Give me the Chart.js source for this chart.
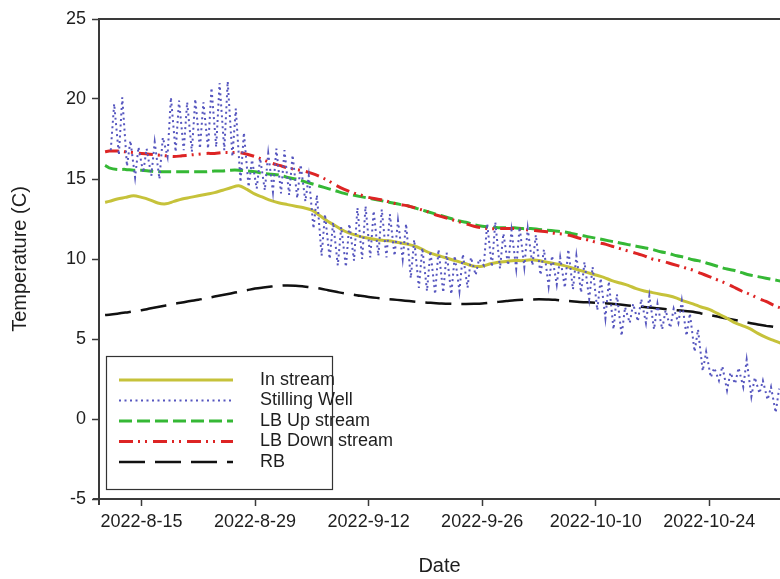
<!DOCTYPE html>
<html>
<head>
<meta charset="utf-8">
<script src="https://cdn.jsdelivr.net/npm/chart.js@4.4.1/dist/chart.umd.min.js"></script>
<style>
  html, body { margin: 0; padding: 0; background: #ffffff; }
  canvas { display: block; }
</style>
</head>
<body>
<canvas id="chart" width="780" height="579"></canvas>
<script>
// Day numbers count from 2022-08-01 (day 0), so day 14 is 2022-08-15.
const tickDays   = [14, 28, 42, 56, 70, 84];
const tickLabels = ['2022-8-15', '2022-8-29', '2022-9-12', '2022-9-26', '2022-10-10', '2022-10-24'];
const yTicks     = [-5, 0, 5, 10, 15, 20, 25];

// Daily mean temperatures (C) for the smooth records
const days = [9.5, 10, 11, 12, 13, 14, 15, 16, 17, 18, 19, 20, 21, 22, 23, 24, 25, 26, 27, 28, 29,
  30, 31, 32, 33, 34, 35, 36, 37, 38, 39, 40, 41, 42, 43, 44, 45, 46, 47, 48, 49, 50, 51, 52, 53,
  54, 55, 56, 57, 58, 59, 60, 61, 62, 63, 64, 65, 66, 67, 68, 69, 70, 71, 72, 73, 74, 75, 76, 77,
  78, 79, 80, 81, 82, 83, 84, 85, 86, 87, 88, 89, 90, 91, 92, 93];

const inStream = [13.55, 13.6, 13.75, 13.85, 13.95, 13.85, 13.7, 13.5, 13.45, 13.6, 13.75, 13.85,
  13.95, 14.05, 14.15, 14.3, 14.45, 14.58, 14.35, 14.05, 13.85, 13.65, 13.5, 13.4, 13.3, 13.2, 13.05,
  12.7, 12.35, 12.05, 11.75, 11.55, 11.4, 11.3, 11.2, 11.15, 11.1, 11.0, 10.9, 10.75, 10.5, 10.3,
  10.15, 10.0, 9.85, 9.7, 9.55, 9.55, 9.7, 9.8, 9.85, 9.9, 9.9, 9.95, 9.9, 9.8, 9.7, 9.6, 9.45, 9.3,
  9.15, 9.0, 8.85, 8.65, 8.5, 8.35, 8.15, 8.0, 7.9, 7.8, 7.7, 7.55, 7.35, 7.2, 7.0, 6.85, 6.6, 6.35,
  6.05, 5.85, 5.65, 5.35, 5.1, 4.9, 4.7];

const lbUpStream = [15.85, 15.7, 15.6, 15.6, 15.55, 15.55, 15.5, 15.45, 15.45, 15.45, 15.45, 15.45,
  15.45, 15.45, 15.5, 15.5, 15.55, 15.55, 15.5, 15.45, 15.35, 15.3, 15.25, 15.1, 15.0, 14.85, 14.7,
  14.55, 14.4, 14.25, 14.1, 14.0, 13.9, 13.8, 13.7, 13.6, 13.5, 13.4, 13.3, 13.15, 13.0, 12.85, 12.7,
  12.55, 12.4, 12.3, 12.15, 12.05, 12.0, 11.95, 11.95, 11.95, 11.9, 11.9, 11.85, 11.8, 11.75, 11.7,
  11.6, 11.5, 11.4, 11.3, 11.2, 11.1, 11.0, 10.9, 10.8, 10.7, 10.6, 10.45, 10.35, 10.2, 10.1, 9.95,
  9.85, 9.7, 9.55, 9.4, 9.3, 9.15, 9.0, 8.9, 8.8, 8.7, 8.6];

const lbDownStream = [16.7, 16.75, 16.75, 16.7, 16.65, 16.6, 16.55, 16.5, 16.45, 16.4, 16.45, 16.5,
  16.55, 16.6, 16.6, 16.65, 16.65, 16.65, 16.55, 16.4, 16.2, 16.0, 15.85, 15.7, 15.6, 15.5, 15.35,
  15.15, 14.9, 14.6, 14.35, 14.15, 14.0, 13.85, 13.75, 13.65, 13.5, 13.4, 13.3, 13.15, 13.0, 12.8,
  12.65, 12.5, 12.35, 12.2, 12.05, 11.95, 11.9, 11.9, 11.9, 11.9, 11.85, 11.8, 11.75, 11.7, 11.6,
  11.55, 11.45, 11.3, 11.2, 11.05, 10.95, 10.8, 10.65, 10.5, 10.35, 10.2, 10.0, 9.9, 9.75, 9.6, 9.45,
  9.3, 9.1, 8.9, 8.7, 8.5, 8.25, 8.0, 7.8, 7.55, 7.35, 7.1, 6.9];

const rb = [6.5, 6.52, 6.58, 6.65, 6.73, 6.8, 6.9, 7.0, 7.1, 7.2, 7.28, 7.37, 7.45, 7.55, 7.65, 7.75,
  7.85, 7.95, 8.05, 8.15, 8.22, 8.28, 8.33, 8.35, 8.33, 8.28, 8.22, 8.15, 8.05, 7.95, 7.85, 7.78, 7.7,
  7.63, 7.57, 7.52, 7.47, 7.42, 7.37, 7.32, 7.28, 7.25, 7.22, 7.2, 7.19, 7.19, 7.2, 7.22, 7.27, 7.32,
  7.37, 7.42, 7.45, 7.47, 7.48, 7.47, 7.45, 7.4, 7.36, 7.32, 7.29, 7.27, 7.24, 7.2, 7.15, 7.1, 7.05,
  7.0, 6.95, 6.9, 6.85, 6.8, 6.75, 6.7, 6.6, 6.5, 6.4, 6.3, 6.2, 6.1, 6.0, 5.9, 5.82, 5.75, 5.65];

// Stilling well: daily low (early morning) and high (afternoon) readings
const swDays = [10, 11, 12, 13, 14, 15, 16, 17, 18, 19, 20, 21, 22, 23, 24, 25, 26, 27, 28, 29, 30,
  31, 32, 33, 34, 35, 36, 37, 38, 39, 40, 41, 42, 43, 44, 45, 46, 47, 48, 49, 50, 51, 52, 53, 54, 55,
  56, 57, 58, 59, 60, 61, 62, 63, 64, 65, 66, 67, 68, 69, 70, 71, 72, 73, 74, 75, 76, 77, 78, 79, 80,
  81, 82, 83, 84, 85, 86, 87, 88, 89, 90, 91, 92];
const swHigh = [19.7, 20.1, 17.4, 17.0, 16.9, 17.3, 17.6, 20.1, 19.9, 19.8, 20.0, 19.8, 20.7, 21.0,
  21.1, 19.4, 17.9, 16.2, 16.3, 16.6, 16.9, 16.8, 16.5, 15.9, 15.2, 14.0, 12.8, 12.3, 12.0, 12.2,
  13.2, 13.3, 13.0, 13.1, 12.8, 12.4, 12.2, 11.2, 10.7, 10.5, 10.6, 10.4, 10.2, 10.3, 10.1, 10.0,
  12.2, 12.3, 11.6, 11.8, 12.0, 11.9, 11.5, 10.6, 10.2, 10.1, 10.6, 10.2, 9.8, 9.5, 8.8, 8.6, 7.8,
  7.0, 7.2, 7.5, 7.7, 7.2, 6.8, 6.9, 7.4, 6.6, 5.6, 4.2, 3.2, 3.3, 2.9, 3.2, 3.7, 2.6, 2.4, 2.0, 1.9];
const swLow = [16.8, 16.5, 15.8, 15.1, 15.4, 15.2, 15.0, 16.4, 16.7, 16.8, 16.7, 16.9, 16.9, 17.0,
  16.8, 16.4, 14.8, 14.5, 14.4, 14.3, 14.2, 14.1, 14.0, 13.8, 13.6, 11.9, 10.2, 10.0, 9.6, 9.5, 9.9,
  10.0, 10.1, 10.2, 10.1, 10.2, 10.0, 8.8, 8.2, 8.0, 7.8, 7.9, 7.8, 8.0, 8.2, 9.0, 9.6, 9.5, 9.4,
  9.6, 9.4, 9.5, 9.6, 9.0, 8.3, 8.4, 8.2, 8.1, 7.9, 7.5, 6.8, 6.3, 5.6, 5.2, 6.0, 6.1, 6.0, 5.6, 5.6,
  5.7, 6.0, 5.2, 4.2, 3.0, 2.6, 2.4, 1.8, 2.2, 2.0, 1.4, 1.6, 1.2, 0.4];

const seriesNames = ['In stream', 'Stilling Well', 'LB Up stream', 'LB Down stream', 'RB'];

const AXIS_COLOR = '#3a3a3a';
const TEXT_COLOR = '#1e1e1e';
const FONT = '"Liberation Sans", Arial, sans-serif';

const styles = [
  { color: '#c6c23a', width: 3,   dash: [] },
  { color: '#5656bf', width: 2,   dash: [2, 3.5] },
  { color: '#35b835', width: 3,   dash: [13, 5] },
  { color: '#dd2424', width: 3,   dash: [14, 5, 2, 5, 2, 6] },
  { color: '#111111', width: 2.5, dash: [26, 10] }
];

function pts(xs, ys) { return xs.map((x, i) => ({ x: x, y: ys[i] })); }

// Stilling-well trace alternates between each day's low and high reading
const swPoints = [];
swDays.forEach((d, i) => {
  swPoints.push({ x: d + 0.2, y: swLow[i] });
  swPoints.push({ x: d + 0.62, y: swHigh[i] });
});

const seriesData = [pts(days, inStream), swPoints, pts(days, lbUpStream), pts(days, lbDownStream), pts(days, rb)];

const datasets = seriesNames.map((name, i) => ({
  label: name,
  data: seriesData[i],
  borderColor: styles[i].color,
  borderWidth: styles[i].width,
  borderDash: styles[i].dash,
  pointRadius: 0,
  fill: false,
  tension: i === 1 ? 0 : 0.35,
  order: [1, 0, 3, 2, 4][i]
}));

// Frame line along the top of the plot area, axis stubs and the boxed legend
const framePlugin = {
  id: 'frameAndLegend',
  afterDraw(chart) {
    const ctx = chart.ctx;
    const a = chart.chartArea;
    ctx.save();
    ctx.strokeStyle = AXIS_COLOR;
    ctx.lineWidth = 2;
    ctx.beginPath();
    ctx.moveTo(a.left - 1, a.top);
    ctx.lineTo(a.right, a.top);
    ctx.moveTo(a.left - 6, a.bottom);
    ctx.lineTo(a.left, a.bottom);
    ctx.moveTo(a.left, a.bottom);
    ctx.lineTo(a.left, a.bottom + 6);
    ctx.stroke();

    // legend box
    const bx = 106, by = 356, bw = 226, bh = 133;
    ctx.lineWidth = 1.2;
    ctx.strokeStyle = '#333333';
    ctx.fillStyle = '#ffffff';
    ctx.fillRect(bx, by, bw, bh);
    ctx.strokeRect(bx + 0.5, by + 0.5, bw, bh);

    const rowY = [380, 400.5, 421, 441.5, 462];
    ctx.font = '18px ' + FONT;
    ctx.textBaseline = 'middle';
    ctx.textAlign = 'left';
    seriesNames.forEach((name, i) => {
      const s = styles[i];
      ctx.strokeStyle = s.color;
      ctx.lineWidth = s.width;
      ctx.setLineDash(s.dash);
      ctx.beginPath();
      ctx.moveTo(119, rowY[i]);
      ctx.lineTo(233, rowY[i]);
      ctx.stroke();
      ctx.setLineDash([]);
      ctx.fillStyle = TEXT_COLOR;
      ctx.fillText(name, 260, rowY[i]);
    });
    ctx.restore();
  }
};

new Chart(document.getElementById('chart'), {
  type: 'line',
  data: { datasets: datasets },
  plugins: [framePlugin],
  options: {
    responsive: false,
    animation: false,
    devicePixelRatio: 1,
    layout: { padding: { top: 19, right: 0, left: 0, bottom: 0 } },
    plugins: { legend: { display: false }, tooltip: { enabled: false } },
    scales: {
      x: {
        type: 'linear',
        min: 8.75,
        max: 92.73,
        afterBuildTicks(scale) { scale.ticks = tickDays.map(v => ({ value: v })); },
        afterFit(scale) { scale.height = 80; },
        ticks: {
          autoSkip: false,
          maxRotation: 0,
          padding: 5,
          color: TEXT_COLOR,
          font: { family: FONT, size: 18 },
          callback(value) {
            const k = tickDays.indexOf(value);
            return k >= 0 ? tickLabels[k] : '';
          }
        },
        grid: { drawOnChartArea: false, tickLength: 7, tickWidth: 1.5, tickColor: AXIS_COLOR },
        border: { display: true, color: AXIS_COLOR, width: 2 },
        title: {
          display: true,
          text: 'Date',
          color: TEXT_COLOR,
          font: { family: FONT, size: 20 },
          padding: { top: 0, bottom: 1 }
        }
      },
      y: {
        type: 'linear',
        min: -5,
        max: 25,
        afterBuildTicks(scale) { scale.ticks = yTicks.map(v => ({ value: v })); },
        afterFit(scale) { scale.width = 99; },
        ticks: {
          padding: 6,
          color: TEXT_COLOR,
          font: { family: FONT, size: 18 }
        },
        grid: { drawOnChartArea: false, tickLength: 7, tickWidth: 1.5, tickColor: AXIS_COLOR },
        border: { display: true, color: AXIS_COLOR, width: 2 },
        title: {
          display: true,
          text: 'Temperature (C)',
          color: TEXT_COLOR,
          font: { family: FONT, size: 20 },
          padding: { top: 8, bottom: 0 }
        }
      }
    }
  }
});
</script>
</body>
</html>
